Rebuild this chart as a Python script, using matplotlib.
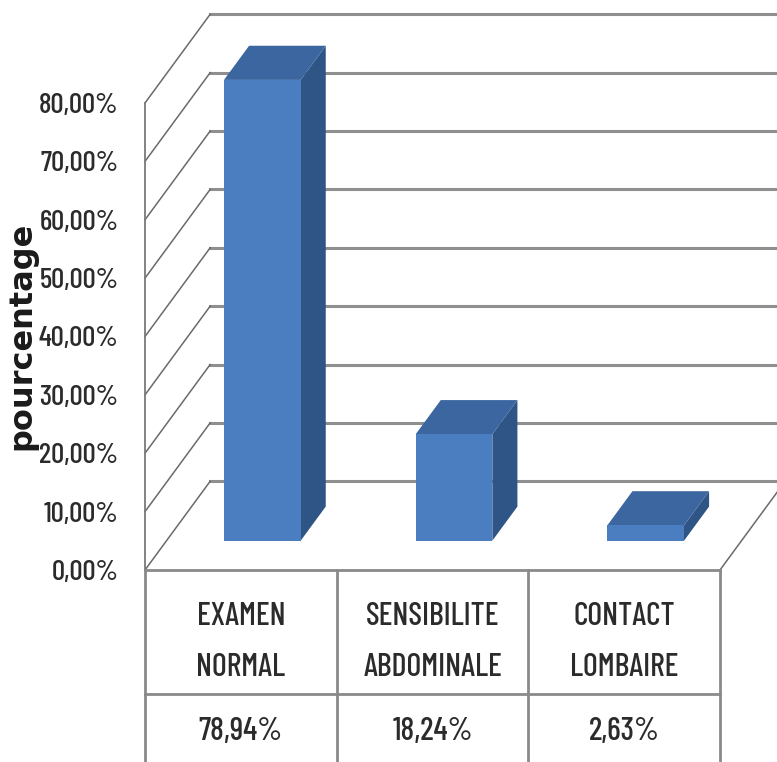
import matplotlib.pyplot as plt
from matplotlib.patches import Polygon
from matplotlib.transforms import blended_transform_factory

# data
categories = ["EXAMEN\nNORMAL", "SENSIBILITE\nABDOMINALE", "CONTACT\nLOMBAIRE"]
values = [78.94, 18.24, 2.63]
value_labels = ["78,94%", "18,24%", "2,63%"]
yticks = [0, 10, 20, 30, 40, 50, 60, 70, 80]
ytick_labels = ["0,00%", "10,00%", "20,00%", "30,00%", "40,00%",
                "50,00%", "60,00%", "70,00%", "80,00%"]

narrow = ["Barlow Condensed", "DejaVu Sans"]
txt_kw = dict(family=narrow, fontweight="medium", color="#2b2b2b")

# fake 3d: a point at depth d (0 front .. 1 back) is shifted by d*(DX, DY)
DX, DY = 0.34, 15.2
def p3(x, y, d):
    return (x + DX * d, y + DY * d)

fig = plt.figure(figsize=(7.77, 7.62), dpi=100)
ax = fig.add_axes([145/777, 192/762, 575/777, 467/762])
ax.set_xlim(0, len(categories))
ax.set_ylim(0, 80)
for s in ax.spines.values():
    s.set_visible(False)
ax.set_xticks([])
ax.set_yticks(yticks)
ax.set_yticklabels(ytick_labels, fontsize=21, **txt_kw)
ax.tick_params(axis="y", length=0, pad=19)

n = len(categories)
# back wall gridlines and left wall diagonals
for t in yticks:
    xa, ya = p3(0, t, 1)
    xb, yb = p3(n, t, 1)
    ax.plot([xa, xb], [ya, yb], color="#8f8f8f", lw=2.2, clip_on=False, zorder=1)
    xf, yf = p3(0, t, 0)
    ax.plot([xf, xa], [yf, ya], color="#6a6a6a", lw=1.1, clip_on=False, zorder=1)
# left wall front edge
ax.plot([0, 0], [0, 80], color="#7a7a7a", lw=1.3, clip_on=False, zorder=1)
# floor right edge
xa, ya = p3(n, 0, 0)
xb, yb = p3(n, 0, 1)
ax.plot([xa, xb], [ya, yb], color="#6a6a6a", lw=1.1, clip_on=False, zorder=1)

# bars
df, db = 0.33, 0.715
bw = 0.4
for i, v in enumerate(values):
    x0 = i + 0.5 - bw / 2
    x1 = i + 0.5 + bw / 2
    front = [p3(x0, 0, df), p3(x1, 0, df), p3(x1, v, df), p3(x0, v, df)]
    side = [p3(x1, 0, df), p3(x1, 0, db), p3(x1, v, db), p3(x1, v, df)]
    top = [p3(x0, v, df), p3(x1, v, df), p3(x1, v, db), p3(x0, v, db)]
    ax.add_patch(Polygon(side, closed=True, fc="#2f5587", ec="none", clip_on=False, zorder=3))
    ax.add_patch(Polygon(top, closed=True, fc="#3b669f", ec="none", clip_on=False, zorder=3))
    ax.add_patch(Polygon(front, closed=True, fc="#4a7ec0", ec="none", clip_on=False, zorder=4))

# data table under the plot
tr = blended_transform_factory(ax.transData, ax.transAxes)
line_kw = dict(color="#8a8a8a", lw=2.0, clip_on=False, transform=tr, zorder=2)
ax.plot([0, n], [0, 0], **line_kw)
ax.plot([0, n], [-0.2655, -0.2655], **line_kw)
for k in range(n + 1):
    ax.plot([k, k], [0, -0.45], **line_kw)
for i, (c, lab) in enumerate(zip(categories, value_labels)):
    ax.text(i + 0.5, -0.154, c, transform=tr, ha="center", va="center",
            fontsize=23, linespacing=1.95, **txt_kw)
    ax.text(i + 0.5, -0.345, lab, transform=tr, ha="center", va="center",
            fontsize=23, **txt_kw)

fig.text(22/777, 1 - 336/762, "pourcentage", rotation=90, ha="center", va="center",
         fontsize=23, fontweight="bold", color="#1a1a1a")

fig.savefig("out.png", dpi=100)
